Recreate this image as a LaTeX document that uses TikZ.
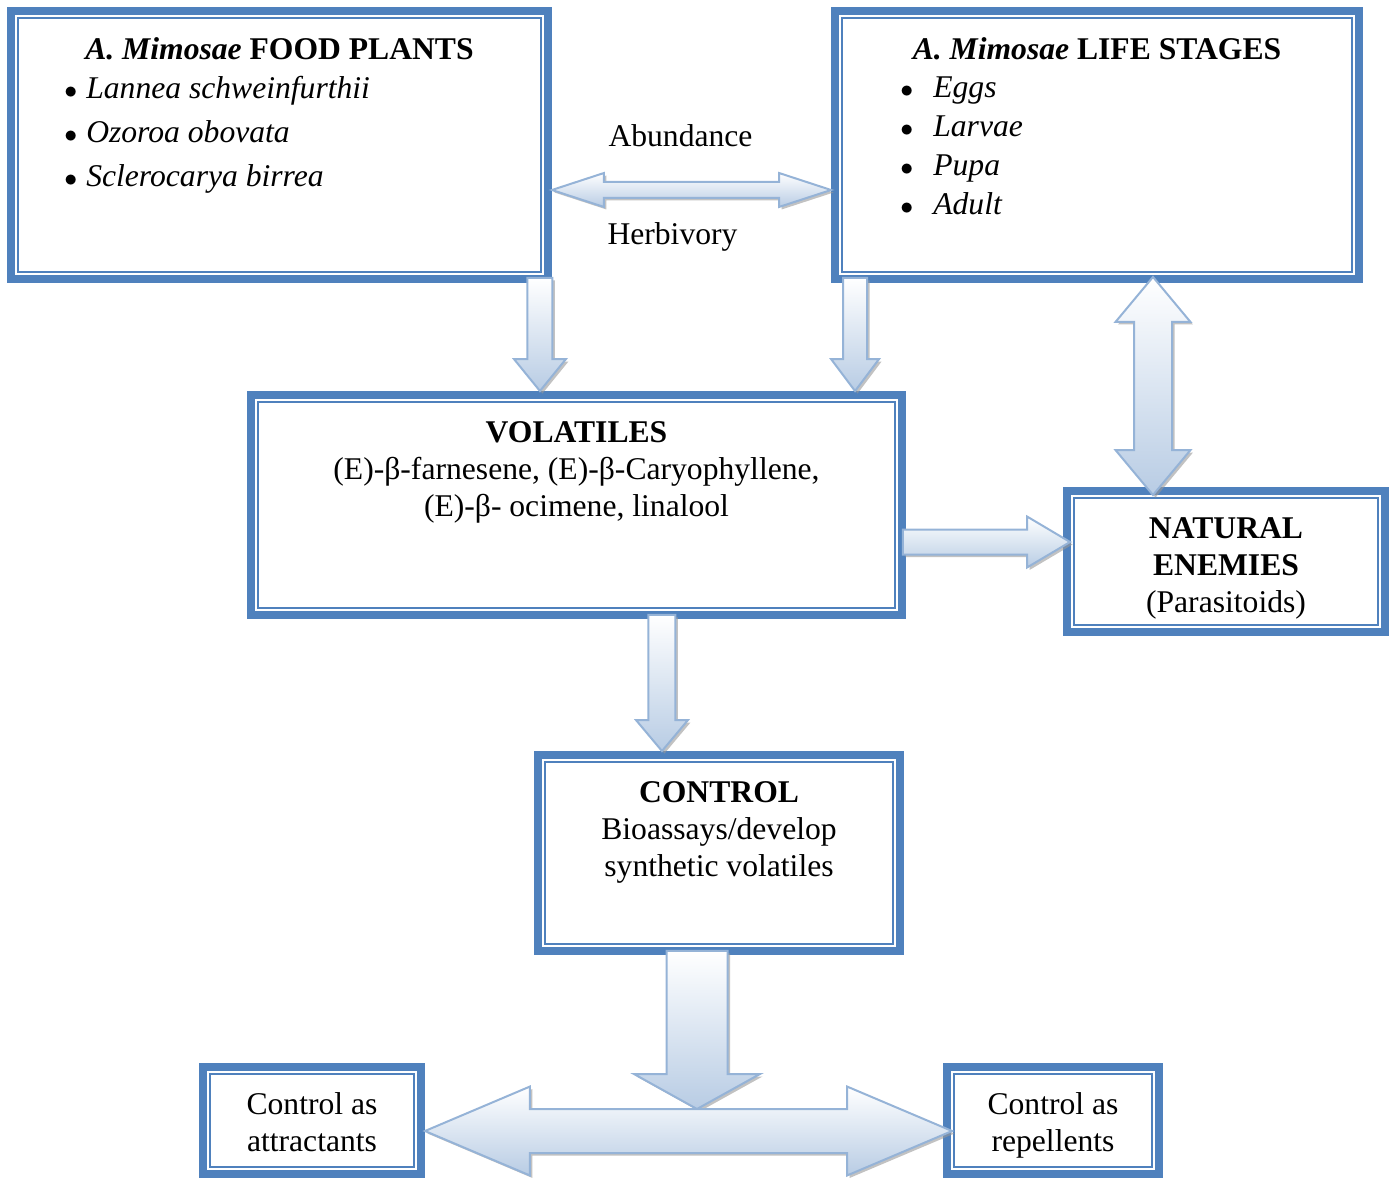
\documentclass[tikz,border=0pt]{standalone}
\usepackage{fontspec}
\setmainfont{Liberation Serif}
\usetikzlibrary{positioning,calc,shadows}
\definecolor{boxblue}{HTML}{4F81BD}
\definecolor{arrowline}{HTML}{95B3D7}
\definecolor{arrowfill}{HTML}{B8CCE4}
\tikzset{
    framebox/.style={
           rectangle,
           draw=boxblue, line width=0.16cm,
           fill=white,
           inner sep=0pt,
           path picture={\draw[boxblue, line width=0.04cm]
               ([shift={(0.14cm,0.14cm)}]path picture bounding box.south west) rectangle
               ([shift={(-0.14cm,-0.14cm)}]path picture bounding box.north east);},
           },
    boxtext/.style={
           align=center,
           inner sep=0pt,
           font=\fontsize{18}{21}\selectfont,
           },
    blockarrow/.style={
           draw=arrowline, line width=0.04cm,
           top color=white, bottom color=arrowfill,
           drop shadow={shadow xshift=0.05cm, shadow yshift=-0.05cm, fill=gray!80, opacity=0.6},
           },
}
% block arrow: tail, tip, shaft half width, head half width, head length
\newcommand{\blockarrow}[5]{%
    \coordinate (ba-h) at ($(#2)!#5!(#1)$);
    \path[blockarrow] ($(#1)!#3!90:(#2)$) -- ($(ba-h)!#3!90:(#2)$) -- ($(ba-h)!#4!90:(#2)$)
        -- (#2) -- ($(ba-h)!#4!-90:(#2)$) -- ($(ba-h)!#3!-90:(#2)$) -- ($(#1)!#3!-90:(#2)$) -- cycle;
}
% double block arrow: tip, tip, shaft half width, head half width, head length
\newcommand{\doubleblock}[5]{%
    \coordinate (ba-h1) at ($(#1)!#5!(#2)$);
    \coordinate (ba-h2) at ($(#2)!#5!(#1)$);
    \path[blockarrow] (#1) -- ($(ba-h1)!#4!90:(#2)$) -- ($(ba-h1)!#3!90:(#2)$)
        -- ($(ba-h2)!#3!90:(#2)$) -- ($(ba-h2)!#4!90:(#2)$) -- (#2)
        -- ($(ba-h2)!#4!-90:(#2)$) -- ($(ba-h2)!#3!-90:(#2)$)
        -- ($(ba-h1)!#3!-90:(#2)$) -- ($(ba-h1)!#4!-90:(#2)$) -- cycle;
}
\newcommand{\listdot}{\scalebox{0.85}{$\bullet$}}

\begin{document}
\begin{tikzpicture}[x=0.02cm, y=-0.02cm]
        \useasboundingbox (0,0) rectangle (1396,1177);

        % BOX FOOD PLANTS
        \node[framebox, minimum width=10.74cm, minimum height=5.36cm] (B_PLANTS) at (279.5,145) {};
        \node[boxtext, below=0.6cm of B_PLANTS.north] (T_PLANTS)
            {\textbf{\textit{A. Mimosae} FOOD PLANTS}};
        \node[boxtext, align=left, font=\fontsize{18}{25}\selectfont,
            below right=1.38cm and 1.14cm of B_PLANTS.north west] (L_PLANTS)
            {\listdot\hspace{0.18cm}\textit{Lannea schweinfurthii}\\
             \listdot\hspace{0.18cm}\textit{Ozoroa obovata}\\
             \listdot\hspace{0.18cm}\textit{Sclerocarya birrea}};

        % BOX LIFE STAGES
        \node[framebox, minimum width=10.48cm, minimum height=5.36cm] (B_STAGES) at (1097,145) {};
        \node[boxtext, below=0.6cm of B_STAGES.north] (T_STAGES)
            {\textbf{\textit{A. Mimosae} LIFE STAGES}};
        \node[boxtext, align=left, font=\fontsize{18}{22.2}\selectfont,
            below right=1.38cm and 1.38cm of B_STAGES.north west] (L_STAGES)
            {\listdot\hspace{0.4cm}\textit{Eggs}\\
             \listdot\hspace{0.4cm}\textit{Larvae}\\
             \listdot\hspace{0.4cm}\textit{Pupa}\\
             \listdot\hspace{0.4cm}\textit{Adult}};

        % BOX VOLATILES
        \node[framebox, minimum width=13.02cm, minimum height=4.4cm] (B_VOLATILES) at (576.5,505) {};
        \node[boxtext, below=0.6cm of B_VOLATILES.north] (T_VOLATILES)
            {\textbf{VOLATILES}\\
             (E)-β-farnesene, (E)-β-Caryophyllene,\\
             (E)-β- ocimene, linalool};

        % BOX NATURAL ENEMIES
        \node[framebox, minimum width=6.36cm, minimum height=2.82cm] (B_ENEMIES) at (1226,561.5) {};
        \node[boxtext, below=0.6cm of B_ENEMIES.north] (T_ENEMIES)
            {\textbf{NATURAL}\\ \textbf{ENEMIES}\\ (Parasitoids)};

        % BOX CONTROL
        \node[framebox, minimum width=7.24cm, minimum height=3.92cm] (B_CONTROL) at (719,853) {};
        \node[boxtext, below=0.6cm of B_CONTROL.north] (T_CONTROL)
            {\textbf{CONTROL}\\ Bioassays/develop\\ synthetic volatiles};

        % BOXES ATTRACTANTS / REPELLENTS
        \node[framebox, minimum width=4.36cm, minimum height=2.14cm] (B_ATTRACT) at (312,1120.5) {};
        \node[boxtext, below=0.58cm of B_ATTRACT.north] (T_ATTRACT) {Control as\\ attractants};
        \node[framebox, minimum width=4.24cm, minimum height=2.14cm] (B_REPEL) at (1053,1120.5) {};
        \node[boxtext, below=0.58cm of B_REPEL.north] (T_REPEL) {Control as\\ repellents};

        % arrows between the boxes
        \coordinate (A1) at ([yshift=-0.9cm]B_PLANTS.east);
        \coordinate (B1) at (B_STAGES.west |- A1);
        \doubleblock{A1}{B1}{0.16cm}{0.34cm}{1.04cm}
        \coordinate (M1) at ($(A1)!0.5!(B1)$);
        \node[boxtext, anchor=south, above=0.86cm of M1, xshift=-0.22cm] (L_ABUND) {Abundance};
        \node[boxtext, below=0.64cm of M1, xshift=-0.38cm] (L_HERB) {Herbivory};

        \coordinate (A2) at ([shift={(-0.24cm,0.1cm)}]B_PLANTS.south east);
        \coordinate (B2) at (A2 |- B_VOLATILES.north);
        \blockarrow{A2}{B2}{0.25cm}{0.52cm}{0.64cm}

        \coordinate (A3) at ([shift={(0.48cm,0.1cm)}]B_STAGES.south west);
        \coordinate (B3) at (A3 |- B_VOLATILES.north);
        \blockarrow{A3}{B3}{0.24cm}{0.48cm}{0.64cm}

        \coordinate (A4) at ([shift={(1.12cm,0.12cm)}]B_STAGES.south);
        \coordinate (B4) at ($(A4 |- B_ENEMIES.north)+(0,8)$);
        \doubleblock{A4}{B4}{0.38cm}{0.75cm}{0.9cm}

        \coordinate (A5) at ([shift={(-0.06cm,-0.74cm)}]B_VOLATILES.east);
        \coordinate (B5) at ($(B_ENEMIES.west |- A5)+(7,0)$);
        \blockarrow{A5}{B5}{0.25cm}{0.51cm}{0.86cm}

        \coordinate (A6) at ([shift={(1.71cm,0.08cm)}]B_VOLATILES.south);
        \coordinate (B6) at (A6 |- B_CONTROL.north);
        \blockarrow{A6}{B6}{0.27cm}{0.52cm}{0.62cm}

        \coordinate (A8) at ([yshift=-0.21cm]B_ATTRACT.east);
        \coordinate (B8) at ($(B_REPEL.west |- A8)+(9,0)$);
        \coordinate (A7) at ([shift={(-0.44cm,0.08cm)}]B_CONTROL.south);
        \coordinate (SPLIT) at ($(A7 |- A8)+(0,-22)$);
        \blockarrow{A7}{SPLIT}{0.61cm}{1.26cm}{0.7cm}
        \doubleblock{A8}{B8}{0.44cm}{0.89cm}{2.1cm}

\end{tikzpicture}
\end{document}
